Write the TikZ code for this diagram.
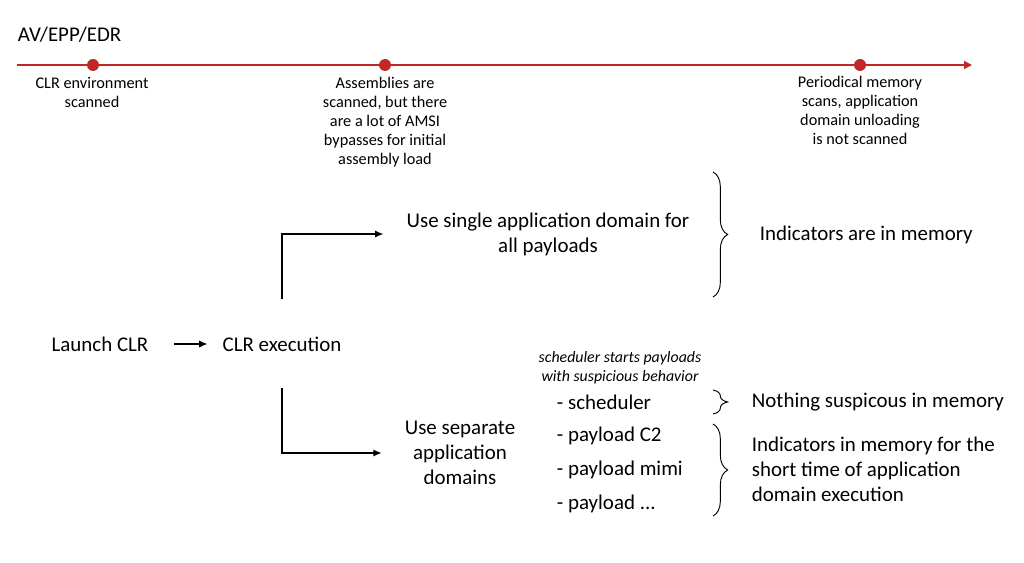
\documentclass[tikz,border=0pt]{standalone}
\usepackage{fontspec}
\setmainfont{Carlito}
\usetikzlibrary{arrows.meta,decorations.pathreplacing,positioning}
\definecolor{axisred}{RGB}{192,40,40}

\begin{document}
\begin{tikzpicture}[x=0.75pt,y=-0.75pt,
	big/.style={font=\fontsize{15.7}{18.75}\selectfont,align=center,inner sep=2pt},
	small/.style={font=\fontsize{12.2}{14.25}\selectfont,align=center,inner sep=0pt},
	note/.style={font=\fontsize{11.9}{14.25}\selectfont\itshape,align=center,inner sep=0pt},
	item/.style={big,anchor=west},
	tick/.style={circle,fill=axisred,inner sep=0pt,minimum size=9pt},
	flow/.style={line width=1.4pt,-{Latex[length=6.5pt,width=5.5pt]}},
	curly/.style={decorate,decoration={brace,amplitude=11pt},line width=0.7pt}]

	\useasboundingbox (0,0) rectangle (1024,563);

	% timeline
	\node[big,anchor=west] (title) at (15,35) {AV/EPP/EDR};
	\coordinate (axisstart) at (17,65);
	\coordinate (axisend) at (972,65);
	\draw[axisred,line width=1.3pt,-{Triangle[length=6pt,width=6pt]}] (axisstart) -- (axisend);
	\node[tick] (t1) at (93,65) {};
	\node[tick] (t2) at (385,65) {};
	\node[tick] (t3) at (860,65) {};
	\node[small] (clrscan) at (92,92) {CLR environment\\scanned};
	\node[small] (asmscan) at (385,122) {Assemblies are\\scanned, but there\\are a lot of AMSI\\bypasses for initial\\assembly load};
	\node[small] (memscan) at (860,110) {Periodical memory\\scans, application\\domain unloading\\is not scanned};

	% flow
	\node[big] (launch) at (100,344) {Launch CLR};
	\node[big] (exec) at (282,344) {CLR execution};
	\node[big] (single) at (548,234) {Use single application domain for\\all payloads};
	\node[big] (sep) at (460,453) {Use separate\\application\\domains};
	\draw[flow,shorten <=17pt,shorten >=9pt] (launch) -- (exec);
	\draw[flow,shorten <=26pt,shorten >=15pt] (exec) |- (single);
	\draw[flow,shorten <=25pt,shorten >=15pt] (exec) |- (sep);

	% payloads
	\node[note] (hint) at (620,368) {scheduler starts payloads\\with suspicious behavior};
	\node[item] (sched) at (554,402) {- scheduler};
	\node[item] (c2) at (554,436) {- payload C2};
	\node[item] (mimi) at (554,470) {- payload mimi};
	\node[item] (other) at (554,504) {- payload ...};

	% braces
	\draw[curly] (713,172) -- (713,297);
	\draw[curly] (713,390) -- (713,414);
	\draw[curly] (713,424) -- (713,516);
	\node[item] (inmem) at (757,235) {Indicators are in memory};
	\node[item] (clean) at (749,402) {Nothing suspicous in memory};
	\node[item,align=left] (short) at (749,469) {Indicators in memory for the\\short time of application\\domain execution};
\end{tikzpicture}
\end{document}
